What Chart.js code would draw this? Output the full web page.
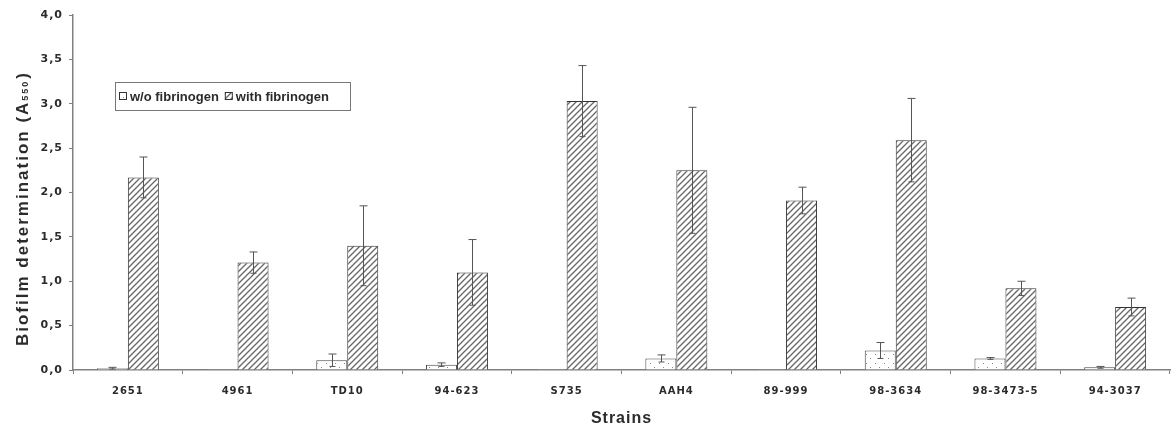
<!DOCTYPE html>
<html>
<head>
<meta charset="utf-8">
<script src="https://cdn.jsdelivr.net/npm/chart.js@4.4.0/dist/chart.umd.min.js"></script>
<style>
  html, body { margin: 0; padding: 0; background: #fff; }
  #wrap { width: 1172px; height: 434px; }
</style>
</head>
<body>
<div id="wrap"><canvas id="canvas" width="1172" height="434"></canvas></div>
<script>
var strains = ['2651', '4961', 'TD10', '94-623', 'S735', 'AAH4', '89-999', '98-3634', '98-3473-5', '94-3037'];
var withoutFib = [0.02, 0.01, 0.11, 0.06, 0.01, 0.13, 0.01, 0.22, 0.13, 0.03];
var withoutErr = [0.01, 0, 0.07, 0.02, 0, 0.04, 0, 0.09, 0.01, 0.01];
var withFib = [2.17, 1.21, 1.40, 1.10, 3.03, 2.25, 1.91, 2.59, 0.92, 0.71];
var withErr = [0.23, 0.12, 0.45, 0.37, 0.40, 0.71, 0.15, 0.47, 0.08, 0.10];
var legendLabels = ['w/o fibrinogen', 'with fibrinogen'];

var textColor = '#2b2b2b';
var axisColor = '#808080';

// fill patterns: dots for w/o, diagonal hatch for with
function dotPattern(){
    var c = document.createElement('canvas');
    c.width = 9; c.height = 9;
    var g = c.getContext('2d');
    g.fillStyle = '#fff';
    g.fillRect(0, 0, 9, 9);
    g.fillStyle = '#888';
    g.fillRect(2, 3, 1, 1);
    g.fillRect(6, 7, 1, 1);
    return g.createPattern(c, 'repeat');
}
function hatchPattern(){
    var c = document.createElement('canvas');
    c.width = 6; c.height = 6;
    var g = c.getContext('2d');
    g.fillStyle = '#fff';
    g.fillRect(0, 0, 6, 6);
    g.strokeStyle = '#666';
    g.lineWidth = 1.3;
    g.beginPath();
    g.moveTo(-1, 7); g.lineTo(7, -1);
    g.moveTo(-4, 4); g.lineTo(4, -4);
    g.moveTo(2, 10); g.lineTo(10, 2);
    g.stroke();
    return g.createPattern(c, 'repeat');
}
var dots = dotPattern();
var hatch = hatchPattern();

var errors = [withoutErr, withErr];

var spacing = {
    id: 'spacing',
    beforeDraw: function(chart){ chart.ctx.letterSpacing = '1px'; },
    afterDraw: function(chart){ chart.ctx.letterSpacing = '0px'; }
};

var errorBars = {
    id: 'errorBars',
    afterDatasetsDraw: function(chart){
        var ctx = chart.ctx;
        var y = chart.scales.y;
        ctx.save();
        ctx.strokeStyle = '#555';
        ctx.lineWidth = 1;
        chart.data.datasets.forEach(function(ds, i){
            var meta = chart.getDatasetMeta(i);
            meta.data.forEach(function(bar, j){
                var e = errors[i][j];
                if (!e) return;
                var v = ds.data[j];
                var x = Math.round(bar.x) + 0.5;
                var top = y.getPixelForValue(v + e);
                var bot = y.getPixelForValue(Math.max(v - e, 0));
                ctx.beginPath();
                ctx.moveTo(x, top); ctx.lineTo(x, bot);
                ctx.moveTo(x - 4, top); ctx.lineTo(x + 4, top);
                ctx.moveTo(x - 3, bot); ctx.lineTo(x + 3, bot);
                ctx.stroke();
            });
        });
        ctx.restore();
    }
};

var boxLegend = {
    id: 'boxLegend',
    afterDraw: function(chart){
        var ctx = chart.ctx;
        ctx.save();
        ctx.letterSpacing = '0px';
        ctx.fillStyle = '#fff';
        ctx.fillRect(115, 82, 235, 28);
        ctx.strokeStyle = '#777';
        ctx.lineWidth = 1;
        ctx.strokeRect(115.5, 82.5, 235, 28);
        ctx.font = 'bold 13px "Liberation Sans", Arial, sans-serif';
        ctx.textBaseline = 'middle';
        var x = 119;
        chart.data.datasets.forEach(function(ds, i){
            ctx.fillStyle = ds.backgroundColor;
            ctx.fillRect(x, 92, 8, 8);
            ctx.strokeStyle = '#333';
            ctx.strokeRect(x + 0.5, 92.5, 7, 7);
            ctx.fillStyle = textColor;
            ctx.fillText(legendLabels[i], x + 11, 97);
            x += 11 + ctx.measureText(legendLabels[i]).width + 6;
        });
        // y axis title with subscript
        ctx.translate(23, 208);
        ctx.rotate(-Math.PI / 2);
        ctx.textBaseline = 'middle';
        ctx.letterSpacing = '2px';
        var big = 'bold 17px "Liberation Sans", Arial, sans-serif';
        var small = 'bold 9px "Liberation Sans", Arial, sans-serif';
        var main = 'Biofilm determination (A';
        var sub = '550';
        var tail = ')';
        ctx.font = big;
        var w1 = ctx.measureText(main).width;
        var w3 = ctx.measureText(tail).width;
        ctx.font = small;
        var w2 = ctx.measureText(sub).width;
        var sx = -(w1 + w2 + 2 + w3) / 2;
        ctx.fillStyle = textColor;
        ctx.font = big;
        ctx.fillText(main, sx, 0);
        ctx.font = small;
        ctx.fillText(sub, sx + w1, 3);
        ctx.font = big;
        ctx.fillText(tail, sx + w1 + w2 + 1, 0);
        ctx.restore();
    }
};

var ctx = document.getElementById('canvas').getContext('2d');
new Chart(ctx, {
    type: 'bar',
    data: {
        labels: strains,
        datasets: [
            {
                label: legendLabels[0],
                data: withoutFib,
                backgroundColor: dots,
                borderColor: '#444',
                borderWidth: 1
            },
            {
                label: legendLabels[1],
                data: withFib,
                backgroundColor: hatch,
                borderColor: '#333',
                borderWidth: 1
            }
        ]
    },
    options: {
        responsive: false,
        animation: false,
        devicePixelRatio: 1,
        layout: { padding: { top: 15, right: 2, left: 0, bottom: 0 } },
        datasets: { bar: { categoryPercentage: 0.565, barPercentage: 1.0 } },
        plugins: {
            legend: { display: false },
            tooltip: { enabled: false }
        },
        scales: {
            x: {
                afterFit: function(s){ s.height = 64; },
                grid: { drawOnChartArea: false, tickLength: 4, color: axisColor },
                border: { color: axisColor, width: 1.5 },
                ticks: {
                    color: textColor,
                    padding: 11,
                    maxRotation: 0,
                    font: { family: '"DejaVu Sans", sans-serif', weight: 'bold', size: 10 }
                },
                title: {
                    display: true,
                    text: 'Strains',
                    color: textColor,
                    padding: { top: 0, bottom: 6 },
                    font: { family: '"Liberation Sans", Arial, sans-serif', weight: 'bold', size: 16 }
                }
            },
            y: {
                min: 0,
                max: 4,
                afterFit: function(s){ s.width = 73; },
                grid: { drawOnChartArea: false, tickLength: 4, color: axisColor },
                border: { color: axisColor, width: 1.5 },
                ticks: {
                    stepSize: 0.5,
                    color: textColor,
                    padding: 6,
                    font: { family: '"DejaVu Sans", sans-serif', weight: 'bold', size: 11 },
                    callback: function(v){ return v.toFixed(1).replace('.', ','); }
                }
            }
        }
    },
    plugins: [spacing, errorBars, boxLegend]
});
</script>
</body>
</html>
